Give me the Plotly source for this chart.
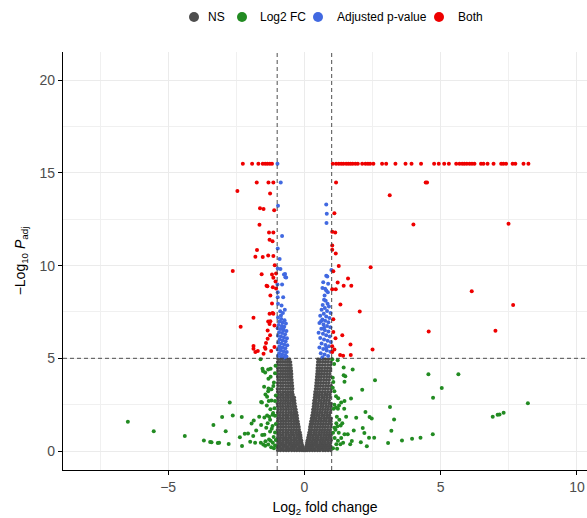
import plotly.graph_objects as go

# ---------------- data ----------------
categories = ["NS", "Log2 FC", "Adjusted p-value", "Both"]
colors = ["#4D4D4D", "#228B22", "#4169E1", "#EE0000"]

fc_cutoff = 1.0          # |log2 fold change| cut-off
p_cutoff_log = 5.0       # -log10 adjusted p cut-off

# NS points: dense V-shaped cloud, one list of x values per -log10(padj) level
ns_levels = [0.03, 0.12, 0.22, 0.33, 0.45, 0.58, 0.72, 0.86, 1.0, 1.15, 1.3, 1.45,
             1.6, 1.76, 1.92, 2.08, 2.24, 2.4, 2.56, 2.72, 2.88, 3.04, 3.2, 3.36,
             3.52, 3.68, 3.84, 4.0, 4.16, 4.32, 4.48, 4.64, 4.8, 4.95]
ns_x_by_level = [
    [-0.98, -0.88, -0.77, -0.67, -0.58, -0.47, -0.37, -0.28, -0.18, -0.09, -0.02, 0.03, 0.1, 0.19, 0.29, 0.38, 0.48, 0.57, 0.68, 0.77, 0.87, 0.97],
    [-0.97, -0.86, -0.78, -0.66, -0.57, -0.48, -0.38, -0.27, -0.19, -0.1, -0.04, 0.05, 0.12, 0.21, 0.3, 0.39, 0.5, 0.59, 0.67, 0.78, 0.88, 0.98],
    [-0.99, -0.9, -0.79, -0.69, -0.6, -0.49, -0.4, -0.31, -0.2, -0.12, -0.05, 0.06, 0.14, 0.22, 0.31, 0.42, 0.51, 0.6, 0.7, 0.8, 0.89, 0.97],
    [-0.98, -0.87, -0.77, -0.68, -0.57, -0.47, -0.38, -0.29, -0.19, -0.08, 0.08, 0.17, 0.26, 0.36, 0.45, 0.55, 0.64, 0.74, 0.84, 0.94],
    [-0.97, -0.88, -0.78, -0.67, -0.58, -0.48, -0.37, -0.28, -0.18, -0.1, 0.09, 0.18, 0.27, 0.37, 0.46, 0.57, 0.66, 0.76, 0.86, 0.96],
    [-0.99, -0.89, -0.79, -0.69, -0.6, -0.5, -0.4, -0.3, -0.2, -0.11, 0.11, 0.2, 0.3, 0.4, 0.49, 0.59, 0.69, 0.78, 0.88, 0.98],
    [-0.98, -0.88, -0.77, -0.68, -0.58, -0.49, -0.39, -0.29, -0.2, -0.13, 0.13, 0.22, 0.31, 0.41, 0.5, 0.6, 0.7, 0.8, 0.89, 0.97],
    [-0.97, -0.87, -0.78, -0.67, -0.57, -0.47, -0.38, -0.28, -0.19, -0.14, 0.15, 0.23, 0.33, 0.42, 0.52, 0.61, 0.71, 0.81, 0.9, 0.98],
    [-0.98, -0.89, -0.79, -0.69, -0.6, -0.5, -0.41, -0.31, -0.22, -0.16, 0.17, 0.25, 0.35, 0.44, 0.54, 0.63, 0.73, 0.82, 0.92],
    [-0.99, -0.88, -0.78, -0.68, -0.58, -0.48, -0.39, -0.29, -0.19, 0.19, 0.27, 0.37, 0.46, 0.56, 0.66, 0.75, 0.85, 0.95],
    [-0.97, -0.87, -0.77, -0.67, -0.57, -0.48, -0.38, -0.29, -0.2, 0.2, 0.28, 0.38, 0.48, 0.58, 0.67, 0.77, 0.87, 0.97],
    [-0.98, -0.88, -0.79, -0.69, -0.59, -0.49, -0.4, -0.3, -0.22, 0.22, 0.3, 0.4, 0.49, 0.59, 0.69, 0.78, 0.88, 0.98],
    [-0.98, -0.87, -0.77, -0.68, -0.58, -0.48, -0.38, -0.3, -0.24, 0.24, 0.32, 0.41, 0.51, 0.6, 0.7, 0.8, 0.9, 0.97],
    [-0.97, -0.88, -0.78, -0.68, -0.59, -0.49, -0.4, -0.31, -0.26, 0.26, 0.34, 0.43, 0.53, 0.62, 0.72, 0.81, 0.91, 0.98],
    [-0.99, -0.89, -0.79, -0.69, -0.6, -0.5, -0.41, -0.33, -0.27, 0.28, 0.36, 0.45, 0.54, 0.64, 0.73, 0.83, 0.92],
    [-0.98, -0.88, -0.78, -0.68, -0.58, -0.49, -0.4, -0.33, -0.29, 0.3, 0.38, 0.47, 0.56, 0.65, 0.75, 0.84, 0.94],
    [-0.97, -0.87, -0.77, -0.67, -0.58, -0.48, -0.39, -0.31, 0.31, 0.39, 0.48, 0.58, 0.67, 0.77, 0.86, 0.96],
    [-0.98, -0.88, -0.79, -0.69, -0.6, -0.51, -0.42, -0.33, 0.33, 0.41, 0.5, 0.6, 0.69, 0.79, 0.88, 0.97],
    [-0.99, -0.89, -0.8, -0.7, -0.61, -0.52, -0.43, -0.35, 0.34, 0.42, 0.51, 0.61, 0.7, 0.8, 0.9, 0.98],
    [-0.97, -0.87, -0.77, -0.68, -0.59, -0.5, -0.42, -0.36, 0.35, 0.43, 0.53, 0.62, 0.72, 0.81, 0.91],
    [-0.98, -0.88, -0.78, -0.69, -0.6, -0.51, -0.43, -0.37, 0.37, 0.45, 0.54, 0.64, 0.73, 0.83, 0.93],
    [-0.97, -0.87, -0.78, -0.68, -0.59, -0.5, -0.42, 0.38, 0.46, 0.55, 0.65, 0.75, 0.84, 0.94],
    [-0.98, -0.89, -0.79, -0.7, -0.61, -0.52, -0.44, 0.39, 0.47, 0.56, 0.66, 0.76, 0.86, 0.96],
    [-0.99, -0.88, -0.79, -0.69, -0.6, -0.51, -0.43, 0.41, 0.49, 0.58, 0.68, 0.77, 0.87, 0.97],
    [-0.97, -0.87, -0.78, -0.68, -0.59, -0.51, -0.44, 0.42, 0.5, 0.59, 0.69, 0.79, 0.88, 0.98],
    [-0.98, -0.88, -0.79, -0.7, -0.61, -0.52, -0.45, 0.43, 0.51, 0.6, 0.7, 0.8, 0.9],
    [-0.97, -0.88, -0.78, -0.69, -0.6, -0.52, -0.46, 0.44, 0.52, 0.61, 0.71, 0.81, 0.91],
    [-0.98, -0.89, -0.8, -0.7, -0.62, -0.54, -0.47, 0.45, 0.53, 0.62, 0.72, 0.82, 0.92],
    [-0.99, -0.88, -0.79, -0.7, -0.61, -0.53, -0.47, 0.46, 0.54, 0.63, 0.73, 0.83, 0.93],
    [-0.97, -0.87, -0.78, -0.69, -0.61, -0.54, -0.48, 0.47, 0.55, 0.64, 0.74, 0.84, 0.94],
    [-0.98, -0.88, -0.79, -0.7, -0.62, -0.55, -0.49, 0.47, 0.56, 0.65, 0.75, 0.85, 0.95],
    [-0.97, -0.88, -0.8, -0.71, -0.63, -0.56, -0.5, 0.48, 0.56, 0.66, 0.76, 0.86, 0.96],
    [-0.98, -0.89, -0.8, -0.71, -0.63, -0.56, -0.51, 0.49, 0.57, 0.67, 0.77, 0.87, 0.97],
    [-0.96, -0.87, -0.79, -0.7, -0.62, -0.55, 0.5, 0.58, 0.68, 0.78, 0.88],
]

# Log2 FC only (green): (log2FC, -log10 padj)
fc_points = [
    (-6.48, 1.58), (-5.53, 1.06), (-4.39, 0.81), (-3.69, 0.56), (-3.46, 0.48), (-3.41, 0.47),
    (-3.18, 0.43), (-3.13, 0.44), (-2.78, 0.38), (-3.34, 1.40), (-3.02, 1.83), (-2.89, 1.06),
    (-2.74, 2.62), (-2.63, 1.92), (-2.30, 1.83), (-2.37, 0.74), (-2.29, 0.27), (-2.19, 0.93),
    (-2.07, 0.94), (-1.99, 0.50), (-1.88, 0.81), (-1.81, 0.45), (-1.94, 1.49), (-1.86, 1.65),
    (-1.66, 1.85), (-1.77, 1.11), (-1.47, 1.81), (-1.59, 1.40), (-1.55, 0.86), (-1.47, 0.87),
    (-1.60, 0.45), (-1.51, 0.35), (-1.44, 0.28), (-1.33, 0.35), (-1.43, 0.52), (-1.24, 0.55),
    (-1.16, 0.45), (-1.40, 1.25), (-1.26, 1.05), (-1.17, 1.35), (-1.35, 1.50), (-1.26, 1.68),
    (-1.37, 1.92), (-1.29, 1.85), (-1.17, 1.95), (-1.59, 2.65), (-1.56, 2.62), (-1.31, 2.70),
    (-1.21, 2.72), (-1.43, 3.05), (-1.33, 3.23), (-1.21, 3.33), (-1.37, 2.92), (-1.48, 3.46),
    (-1.32, 3.37), (-1.14, 3.51), (-1.24, 4.00), (-1.32, 3.90), (-1.54, 4.44), (-1.44, 4.23),
    (-1.33, 4.39), (-1.24, 4.44), (-1.52, 4.31), (-1.61, 4.95), (-1.08, 4.20), (-1.08, 2.70),
    (-1.08, 1.90), (-1.08, 1.00), (-1.08, 0.30), (-1.12, 0.15), (-1.22, 0.20), (-1.05, 0.60),
    (-1.10, 2.30), (-1.05, 3.00), (-1.12, 3.70), (-1.06, 4.60), (-1.13, 0.75), (-1.30, 0.62),
    (-1.20, 1.20), (-1.05, 1.45), (-1.15, 2.05), (-1.25, 2.25), (-1.38, 2.45),
    (1.44, 4.50), (1.77, 4.39), (1.44, 4.09), (1.50, 4.03), (1.47, 3.73), (2.12, 3.30),
    (2.59, 3.82), (4.55, 4.14), (5.65, 4.14), (5.04, 3.40), (4.72, 2.87), (8.20, 2.58),
    (6.91, 1.85), (7.09, 1.95), (7.16, 1.97), (7.31, 2.06), (1.71, 2.83), (1.47, 2.70),
    (1.35, 2.62), (1.24, 2.85), (1.16, 2.95), (1.10, 2.50), (1.16, 2.35), (1.27, 2.45),
    (1.04, 3.95), (1.06, 3.72), (1.04, 3.41), (1.10, 3.23), (1.46, 2.28), (1.23, 2.28),
    (1.07, 2.28), (3.14, 2.38), (2.24, 2.10), (2.39, 1.83), (2.47, 1.76), (3.29, 1.70),
    (1.90, 1.79), (1.53, 1.85), (1.19, 1.85), (1.28, 1.68), (1.17, 1.50), (1.39, 1.50),
    (1.33, 1.38), (1.21, 1.33), (1.10, 1.25), (2.14, 1.24), (2.20, 0.97), (1.81, 1.11),
    (1.59, 0.90), (3.19, 1.09), (4.71, 0.90), (4.26, 0.72), (3.95, 0.66), (3.58, 0.56),
    (3.07, 0.43), (2.37, 0.72), (2.56, 0.72), (2.07, 0.47), (2.29, 0.25), (1.74, 0.54),
    (1.68, 0.36), (1.47, 0.90), (1.35, 0.70), (1.23, 0.55), (1.17, 0.36), (1.32, 0.36),
    (1.42, 0.45), (1.11, 0.70), (1.05, 0.98), (1.26, 0.98), (1.14, 1.15), (1.05, 0.15),
    (1.20, 0.12), (1.09, 4.70), (1.02, 4.95), (1.22, 4.90),
]

# Adjusted p-value only (blue)
p_points = [
    (-0.99, 15.5), (-0.87, 14.48), (-0.97, 13.23), (-0.82, 11.60), (-0.98, 10.93), (-0.91, 10.36),
    (-0.98, 9.85), (-0.71, 9.55), (-0.67, 9.36),
    (-0.88, 9.82), (-0.75, 9.52), (-0.70, 9.37), (-0.82, 8.98), (-0.99, 8.98), (-0.98, 8.57),
    (-0.98, 8.30), (-0.78, 8.30), (-0.97, 7.94), (-0.84, 7.85), (-0.72, 7.62), (-0.89, 7.54),
    (-0.79, 7.44), (-0.86, 7.31), (-0.97, 7.20), (-0.85, 7.12), (-0.73, 7.06), (-0.91, 6.98),
    (-0.80, 6.92), (-0.68, 6.88), (-0.95, 6.80), (-0.83, 6.74), (-0.74, 6.70), (-0.98, 6.62),
    (-0.88, 6.58), (-0.77, 6.52), (-0.66, 6.47), (-0.93, 6.40), (-0.82, 6.36), (-0.71, 6.30),
    (-0.97, 6.22), (-0.86, 6.18), (-0.75, 6.12), (-0.64, 6.08), (-0.91, 6.02), (-0.80, 5.96),
    (-0.69, 5.92), (-0.96, 5.85), (-0.85, 5.80), (-0.74, 5.75), (-0.63, 5.70), (-0.92, 5.64),
    (-0.81, 5.58), (-0.70, 5.54), (-0.98, 5.48), (-0.87, 5.43), (-0.76, 5.38), (-0.65, 5.34),
    (-0.93, 5.28), (-0.82, 5.22), (-0.71, 5.18), (-0.97, 5.12), (-0.86, 5.08), (-0.75, 5.05),
    (-0.66, 5.10), (-0.90, 5.55), (-0.78, 6.60),
    (0.80, 13.30), (0.82, 12.80), (0.81, 12.30), (0.99, 9.77), (0.80, 9.46), (0.84, 9.41),
    (0.69, 9.10), (0.87, 9.02), (0.66, 8.80), (0.76, 8.75), (0.86, 8.57), (0.80, 8.66),
    (0.74, 8.39), (0.72, 8.16), (0.78, 8.10), (0.85, 7.95), (0.67, 7.88), (0.90, 7.80),
    (0.75, 7.72), (0.63, 7.62), (0.83, 7.55), (0.96, 7.45), (0.71, 7.40), (0.58, 7.30),
    (0.80, 7.25), (0.92, 7.18), (0.66, 7.10), (0.76, 7.02), (0.88, 6.95), (0.55, 6.90),
    (0.70, 6.82), (0.83, 6.75), (0.95, 6.68), (0.62, 6.60), (0.75, 6.52), (0.88, 6.45),
    (0.52, 6.38), (0.68, 6.32), (0.80, 6.25), (0.93, 6.18), (0.58, 6.10), (0.72, 6.02),
    (0.85, 5.95), (0.97, 5.88), (0.63, 5.80), (0.77, 5.72), (0.90, 5.65), (0.55, 5.58),
    (0.69, 5.50), (0.82, 5.42), (0.95, 5.35), (0.60, 5.28), (0.74, 5.20), (0.87, 5.12),
    (0.66, 5.06), (0.80, 5.55), (0.72, 6.65), (0.61, 7.00),
]

# Both (red)
both_points = [
    (-2.26, 15.5), (-1.92, 15.5), (-1.69, 15.5), (-1.53, 15.5), (-1.44, 15.5), (-1.36, 15.5),
    (-1.27, 15.5), (-1.19, 15.5),
    (-1.75, 14.48), (-1.32, 14.48), (-1.14, 14.48), (-2.46, 14.02), (-1.26, 13.89), (-1.63, 13.10),
    (-1.50, 13.05), (-1.11, 12.99), (-1.65, 12.20), (-1.30, 11.79), (-1.14, 11.79), (-1.28, 11.40),
    (-1.17, 11.31), (-1.74, 10.84), (-1.80, 10.48), (-1.53, 10.46), (-1.33, 10.54), (-1.14, 10.52),
    (-2.63, 9.71), (-1.09, 10.02), (-1.57, 9.53), (-1.19, 9.52), (-1.04, 9.58), (-1.14, 9.34),
    (-1.06, 9.14), (-1.36, 8.89), (-1.16, 8.83), (-1.04, 8.76), (-1.25, 8.39), (-1.19, 7.96),
    (-1.87, 7.19), (-1.28, 7.40), (-1.14, 7.41), (-2.34, 6.70), (-1.33, 6.99), (-1.28, 6.85),
    (-1.10, 6.77), (-1.35, 6.06), (-1.41, 5.82), (-1.26, 6.24), (-1.87, 5.66), (-1.87, 5.52),
    (-1.80, 5.34), (-1.71, 5.40), (-1.50, 5.25), (-1.43, 5.52), (-1.22, 5.40), (-1.10, 5.61),
    (-1.39, 8.92), (-1.17, 7.45), (-1.25, 7.00), (-1.35, 6.50), (-1.45, 5.60),
    (1.04, 15.5), (1.16, 15.5), (1.26, 15.5), (1.35, 15.5), (1.43, 15.5), (1.53, 15.5),
    (1.61, 15.5), (1.69, 15.5), (1.77, 15.5), (1.87, 15.5), (1.96, 15.5), (2.12, 15.5),
    (2.24, 15.5), (2.33, 15.5), (2.41, 15.5), (2.53, 15.5), (2.85, 15.5), (3.00, 15.5),
    (3.34, 15.5), (3.71, 15.5), (3.93, 15.5), (4.28, 15.5), (4.76, 15.5), (4.93, 15.5),
    (5.13, 15.5), (5.30, 15.5), (5.57, 15.5), (5.69, 15.5), (5.79, 15.5), (5.87, 15.5),
    (5.96, 15.5), (6.06, 15.5), (6.15, 15.5), (6.24, 15.5), (6.48, 15.5), (6.57, 15.5),
    (6.72, 15.5), (6.94, 15.5), (7.22, 15.5), (7.30, 15.5), (7.40, 15.5), (7.64, 15.5),
    (7.74, 15.5), (8.04, 15.5), (8.22, 15.5),
    (1.16, 14.48), (4.45, 14.48), (4.50, 14.48), (3.13, 13.80), (1.10, 12.83), (4.00, 12.22),
    (7.49, 12.26), (1.02, 11.83), (1.13, 11.79), (1.02, 11.08), (1.02, 10.86), (1.15, 10.66),
    (2.43, 9.91), (1.26, 9.98), (1.06, 9.70), (1.60, 9.30), (1.22, 9.09), (1.44, 8.92),
    (1.72, 8.92), (1.15, 8.73), (1.02, 8.73), (6.14, 8.62), (1.32, 7.90), (7.66, 7.87),
    (2.03, 7.53), (1.06, 7.11), (1.06, 6.42), (4.56, 6.44), (7.01, 6.49), (1.39, 6.25),
    (1.14, 6.08), (1.69, 5.75), (1.02, 5.65), (2.50, 5.48), (1.10, 5.47), (1.31, 5.18),
    (1.42, 5.14), (1.70, 5.18), (1.02, 5.34),
]

x_ticks = [-5, 0, 5, 10]
y_ticks = [0, 5, 10, 15, 20]
x_range = [-8.86, 10.37]
y_range = [-1.025, 21.525]

# ---------------- build traces ----------------
ns_x, ns_y = [], []
for lvl, xs in zip(ns_levels, ns_x_by_level):
    ns_x.extend(xs)
    ns_y.extend([lvl] * len(xs))

groups = [
    (ns_x, ns_y),
    ([p[0] for p in fc_points], [p[1] for p in fc_points]),
    ([p[0] for p in p_points], [p[1] for p in p_points]),
    ([p[0] for p in both_points], [p[1] for p in both_points]),
]
sizes = [3.6, 4, 4, 4]

fig = go.Figure()
for (gx, gy), name, col, sz in zip(groups, categories, colors, sizes):
    fig.add_trace(go.Scatter(
        x=gx, y=gy, mode="markers", name=name, showlegend=False,
        marker=dict(color=col, size=sz, line=dict(width=0)),
        hoverinfo="x+y",
    ))

dash_style = "4px,3px"
for xv in (-fc_cutoff, fc_cutoff):
    fig.add_shape(type="line", xref="x", yref="paper", x0=xv, x1=xv, y0=0, y1=1,
                  line=dict(color="#3a3a3a", width=0.9, dash=dash_style), layer="above")
fig.add_shape(type="line", xref="paper", yref="y", x0=0, x1=1, y0=p_cutoff_log, y1=p_cutoff_log,
              line=dict(color="#3a3a3a", width=0.9, dash=dash_style), layer="above")

# ---- legend (ggplot-style, top centre): key circles + labels ----
W, H = 587, 518
ML, MR, MT, MB = 63, 0, 52, 48
plot_w = W - ML - MR
plot_h = H - MT - MB
legend_key_px = [194, 242, 318, 439]     # key centres (px)
legend_text_px = [206, 258, 335, 456]    # label left edges (px)
legend_y_px = 17
ly = 1 + (MT - legend_y_px) / plot_h
for kx, tx, name, col in zip(legend_key_px, legend_text_px, categories, colors):
    fig.add_shape(type="circle", xref="paper", yref="paper",
                  xsizemode="pixel", ysizemode="pixel",
                  xanchor=(kx - ML) / plot_w, yanchor=ly,
                  x0=-5, x1=5, y0=-5, y1=5,
                  fillcolor=col, line=dict(width=0))
    fig.add_annotation(x=(tx - ML) / plot_w, y=ly, xref="paper", yref="paper",
                       text=name, showarrow=False, xanchor="left", yanchor="middle",
                       font=dict(size=12, color="black"))

axis_common = dict(
    showline=True, linecolor="black", linewidth=1.2, mirror=False,
    ticks="outside", ticklen=4, tickwidth=1, tickcolor="black",
    showgrid=True, gridcolor="#EBEBEB", gridwidth=1.1,
    zeroline=False, automargin=False,
    tickfont=dict(family="Liberation Sans, Arial, sans-serif", size=14, color="#4D4D4D"),
)

fig.update_layout(
    template="none",
    width=W, height=H,
    margin=dict(l=ML, r=MR, t=MT, b=MB, pad=0),
    paper_bgcolor="white", plot_bgcolor="white",
    font=dict(family="Liberation Sans, Arial, sans-serif", color="black"),
    showlegend=False,
    xaxis=dict(
        range=x_range, tickvals=x_ticks,
        ticktext=[("\u2212" + str(-v)) if v < 0 else str(v) for v in x_ticks],
        title=dict(text="Log<sub>2</sub> fold change", font=dict(size=14, color="black"), standoff=8),
        minor=dict(dtick=2.5, tick0=0, showgrid=True, gridcolor="#F0F0F0", gridwidth=0.6, ticks=""),
        **axis_common,
    ),
    yaxis=dict(
        range=y_range, tickvals=y_ticks,
        title=dict(text="\u2212Log<sub>10</sub> <i>P</i><sub>adj</sub>", font=dict(size=14, color="black"), standoff=10),
        minor=dict(dtick=2.5, tick0=0, showgrid=True, gridcolor="#F0F0F0", gridwidth=0.6, ticks=""),
        **axis_common,
    ),
)

# the page's default body margin would shift the figure; remove it so the
# figure fills the 587x518 window exactly
fig.write_html(
    "out.html",
    config={"displayModeBar": False},
    post_script="document.body.style.margin='0';document.body.style.overflow='hidden';",
)
